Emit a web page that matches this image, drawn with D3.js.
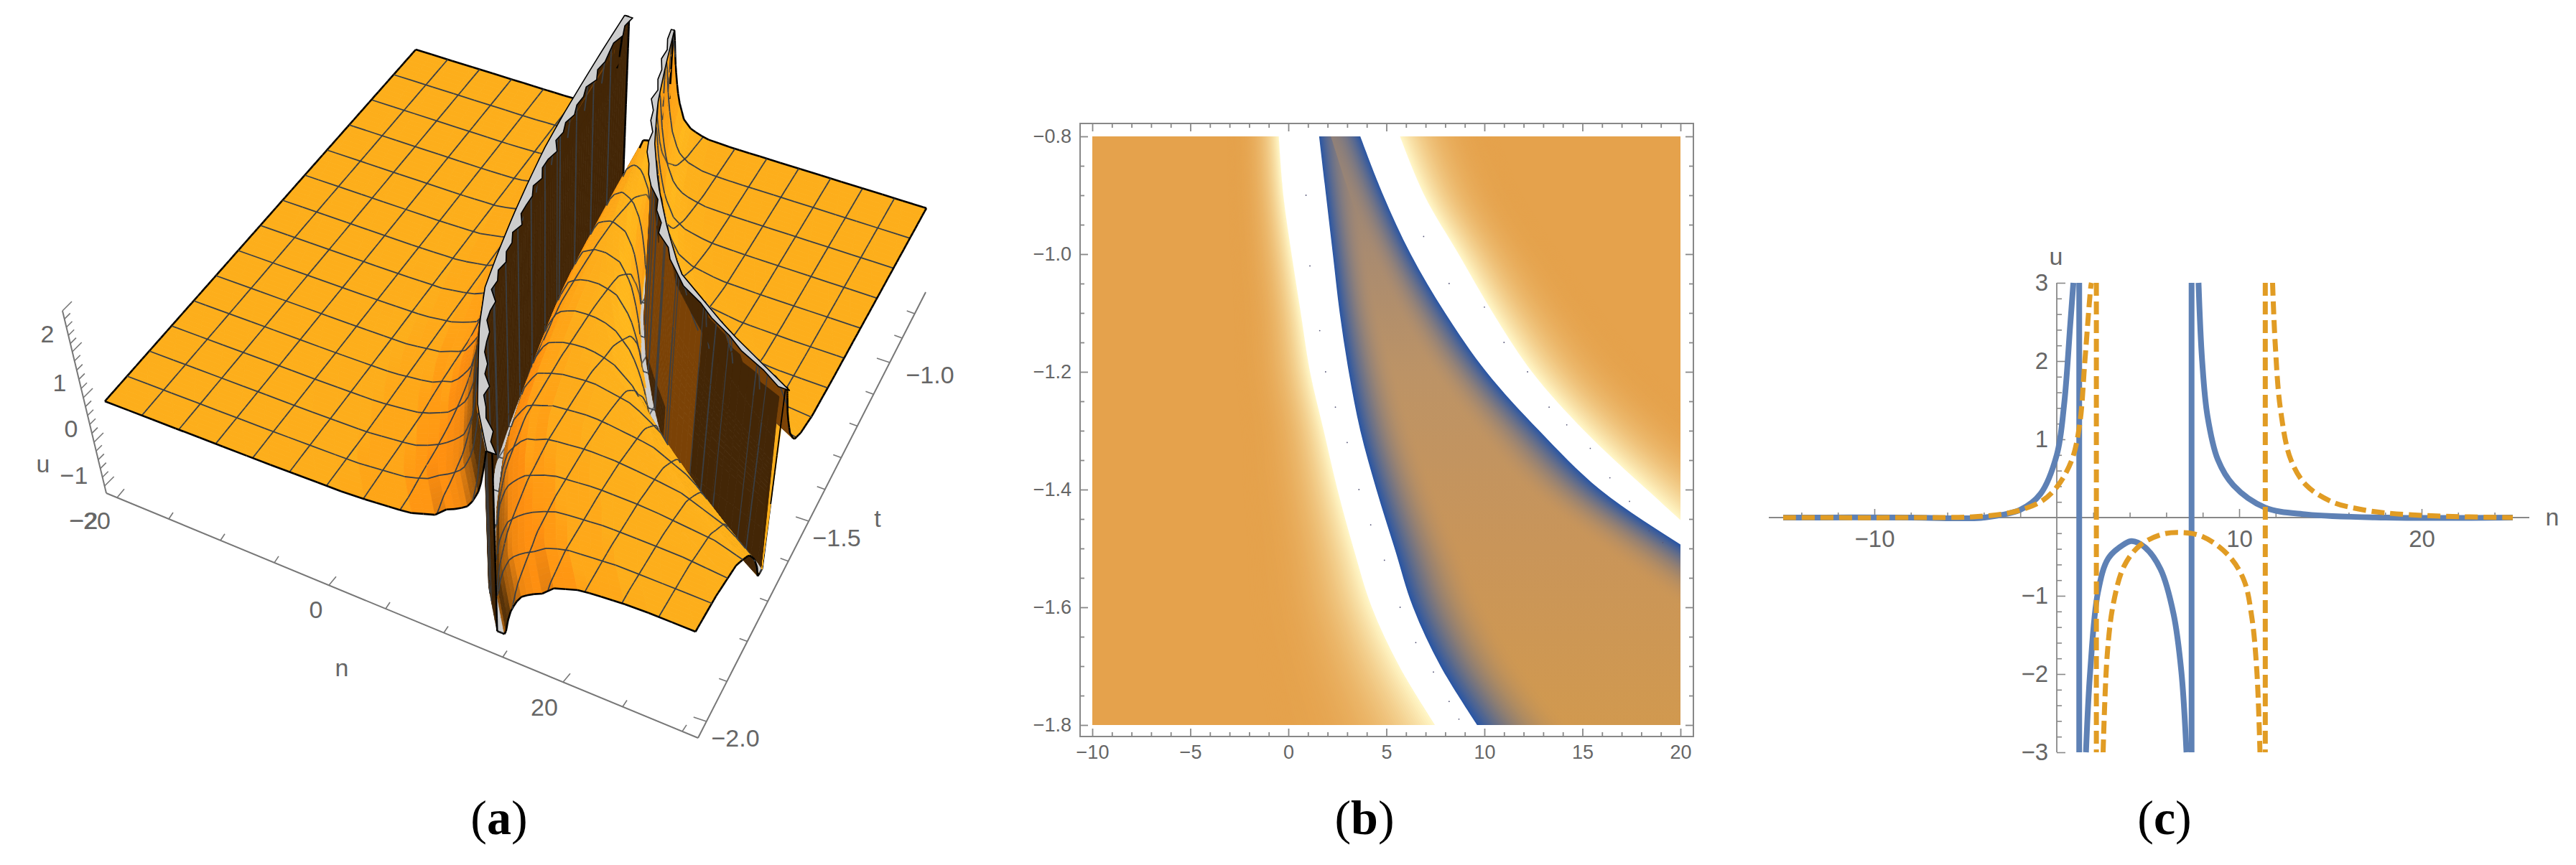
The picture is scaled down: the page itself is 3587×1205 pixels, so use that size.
<!DOCTYPE html>
<html>
<head>
<meta charset="utf-8">
<script src="https://d3js.org/d3.v7.min.js"></script>
<style>
  body { margin: 0; background: #fff; }
  svg { display: block; }
  text { font-family: "Liberation Sans", sans-serif; fill: #666; }
  .caption { font-family: "Liberation Serif", serif; fill: #000; font-size: 68px; text-anchor: middle; }
</style>
</head>
<body>
<svg id="chart" width="3587" height="1205"></svg>
<script>
// ---- panel (a) data: pole curves and height tables
const poleT = [-2, -1.9, -1.8, -1.7, -1.6, -1.5, -1.4, -1.3, -1.2, -1.1, -1, -0.9, -0.8];
const poleA = [13, 10.4, 8.55, 6.7, 5.19, 4.3, 3.48, 2.75, 2.08, 1.6, 1.21, 0.85, 0.54];
const poleB = [62, 53, 45, 37, 30, 23, 17.2, 14.2, 11.5, 9.2, 7.4, 6, 4.67];
const widthA = [2.4, 2.2, 2, 1.8, 1.6, 1.5, 1.4, 1.3, 1.2, 1.1, 1, 0.9, 0.75];
const widthB = [8, 7.5, 7, 6, 5, 3.5, 2.6, 2, 1.5, 1.2, 1, 0.85, 0.75];
const heightD = [0, 0.02, 0.3, 0.5, 0.8, 1.2, 2, 3, 5, 8, 100];
const heightU = [0, 5, 2.6, 2, 1.3, 0.82, 0.33, 0.13, 0.02, 0, 0];
const heightDB = [0, 0.02, 0.12, 0.5, 0.8, 1.2, 2, 3, 5, 8, 100];
const heightUB = [0, 5, 2.3, 1.5, 1.1, 0.7, 0.3, 0.13, 0.02, 0, 0];
const colOffsets = [0.002, 0.004, 0.006, 0.008, 0.01, 0.02, 0.05, 0.1, 0.2, 0.3, 0.4, 0.5, 0.65, 0.8, 1, 1.25, 1.5, 1.8, 2.2, 2.7, 3.3, 4, 5, 6, 7, 8, 9, 10, 11, 13, 15, 17, 19, 21, 23, 25, 27, 29, 31, 34];
const shadeSlopes = [-25, -10, -4, -1, -0.3, 0, 0.3, 1, 3, 8, 25];
const shadeColors = ['#7b4206', '#a85a08', '#f08a10', '#ffa818', '#ffb81c', '#fdae1b', '#ffa015', '#ff9010', '#c8700f', '#5a3408', '#432606'];
const teethA = [0.32, 0.08, 0.48, 0.1, 0.24, 0.05, 0.52, 0.12, 0.32, 0.06, 0.2, 0.42, 0.1, 0.26, 0.58, 0.1, 0.32, 0.08, 0.44, 0.16, 0.32, 0.05, 0.52, 0.1, 0.2, 0.36, 0.08, 0.48, 0.12, 0.26, 0.64, 0.1, 0.32, 0.08, 0.42, 0.16, 0.29, 0.05, 0.52, 0.12, 0.32, 0.2, 0.08, 0.44, 0.1, 0.32];
const teethB = [0.3, 0.1, 0.5, 0.1, 0.35, 0.2, 0.6, 0.1, 0.3, 0.15, 0.7, 0.2, 0.4, 0.1, 0.5, 0.6, 0.5, 0.6, 0.4, 0.1, 0.35, 0.2, 0.5, 0.1, 0.3, 0.15, 0.4, 0.1, 0.3, 0.2];
const aNTicks = [-20, -15, -10, -5, 0, 5, 10, 15, 20, 25, 30];
const aNTickX = [163, 235, 307, 382, 458, 537, 618, 700, 784, 867, 950];

// ---- panel (b) data: band edges (n at each t row)
const bT = [-0.8, -0.9, -1, -1.1, -1.2, -1.3, -1.4, -1.5, -1.6, -1.7, -1.8];
const creamLeft = [-0.49, -0.26, 0.16, 0.63, 1.1, 1.8, 2.5, 3.32, 4.25, 5.65, 7.48];
const blueLeft = [1.57, 1.92, 2.27, 2.62, 3.08, 3.67, 4.49, 5.42, 6.36, 7.76, 9.63];
const blueRight = [3.67, 4.84, 6.24, 8, 10.1, 12.8, 15.9, 20.3, 25, 30, 36];
const creamRight = [5.7, 6.94, 8.69, 10.44, 12.43, 15.1, 18.3, 21.8, 27, 32, 38];
const fadeLeft = [2.6, 2.8, 3.1, 3.4, 3.8, 4.2, 4.8, 5.4, 6.2, 7.2, 8.5];
const fadeRight = [5, 5, 5.2, 5.6, 6.2, 7, 8, 9, 10, 10, 10];
const fringeLeft = [1.4, 1.5, 1.7, 2, 2.4, 2.7, 3, 3.4, 3.8, 4.2, 4.8];
const fringeRight = [1.5, 1.7, 2, 2.4, 2.8, 3.3, 3.8, 4.4, 5, 5.5, 6];
const bandColorT = [-0.8, -1, -1.2, -1.5, -1.8];
const bandColors = ['#8f8079', '#a98b70', '#bc9366', '#c99559', '#d1994f'];
const speckN = [0.9, 1.1, 1.6, 1.9, 2.4, 3, 3.6, 4.2, 4.9, 5.7, 6.5, 7.4, 8.2, 8.7, 6.9, 8.2, 10, 11, 12.2, 13.3, 14.2, 15.4, 16.4, 17.4, 18.4, 19.1];
const speckT = [-0.9, -1.02, -1.13, -1.2, -1.26, -1.32, -1.4, -1.46, -1.52, -1.6, -1.66, -1.71, -1.76, -1.79, -0.97, -1.05, -1.09, -1.15, -1.2, -1.26, -1.29, -1.33, -1.38, -1.42, -1.47, -1.49];

// ---- panel (c) data
const blueCurves = [
  [[-15, 0], [-8, 0], [-5, -0.01], [-4, 0], [-2, 0.1], [-0.9, 0.3], [0, 0.8], [0.4, 1.44], [0.74, 2.47], [0.91, 3]],
  [[1.6, -3], [1.83, -1.97], [2.26, -0.95], [2.83, -0.52], [3.69, -0.34], [4.11, -0.3], [4.83, -0.38], [5.69, -0.66], [6.4, -1.23], [6.83, -1.97], [7.11, -3]],
  [[7.77, 3], [7.97, 2], [8.26, 1.3], [8.83, 0.74], [9.69, 0.41], [11.4, 0.13], [13.69, 0.04], [18, 0], [25, 0]]
];
const orangeCurves = [
  [[-15, 0], [-8, 0], [-4.6, 0.01], [-2.6, 0.06], [-0.9, 0.2], [0, 0.39], [0.83, 0.74], [1.26, 1.2], [1.54, 2], [1.86, 2.94], [1.9, 3]],
  [[2.54, -3], [2.77, -1.74], [3.11, -1.09], [3.69, -0.62], [4.54, -0.36], [5.69, -0.22], [6.69, -0.19], [7.97, -0.24], [9.4, -0.48], [10.26, -0.8], [10.69, -1.27], [10.97, -1.97], [11.14, -3]],
  [[11.83, 3], [11.97, 2.24], [12.26, 1.39], [12.83, 0.74], [13.69, 0.41], [15.1, 0.2], [16.54, 0.11], [18, 0.06], [20.8, 0.02], [25, 0]]
];
const bluePoles = [1.23, 7.39];
const orangePoles = [2.17, 11.43];

const svg = d3.select('#chart');
const lerp = (a, b, f) => a + (b - a) * f;

// ================= panel (a) =================
const gA = svg.append('g');
const clipTop = 2.2, clipBot = -1.8;
const nFrac = d3.scaleLinear([-20, 30], [0, 1]);
const tFrac = d3.scaleLinear([-2, -0.8], [0, 1]);
const FL = [146, 559], FR = [969, 875], BL = [579, 69], BR = [1290, 290], VP = [755, 3220];
const liftPx = 62;
const poleAAt = d3.scaleLinear(poleT, poleA);
const poleBAt = d3.scaleLinear(poleT, poleB);
const widthAAt = d3.scaleLinear(poleT, widthA);
const widthBAt = d3.scaleLinear(poleT, widthB);
const heightAt = d3.scaleLinear(heightD, heightU).clamp(true);
const heightBAt = d3.scaleLinear(heightDB, heightUB).clamp(true);
const shade = d3.scaleLinear(shadeSlopes, shadeColors).clamp(true);

function project(n, t, u) {
  const fn = nFrac(n), ft = tFrac(t);
  const lx = lerp(FL[0], BL[0], ft), ly = lerp(FL[1], BL[1], ft);
  const rx = lerp(FR[0], BR[0], ft), ry = lerp(FR[1], BR[1], ft);
  const x = lerp(lx, rx, fn), y = lerp(ly, ry, fn);
  const dx = x - VP[0], dy = y - VP[1], len = Math.hypot(dx, dy);
  return [x + dx / len * liftPx * u, y + dy / len * liftPx * u];
}
function depthKey(n, t, u) { return 0.07 * nFrac(n) - 0.128 * tFrac(t) + 0.091 * u; }

function termA(x, w) {
  const d = Math.abs(x);
  const wEff = 1 + (w - 1) * Math.min(1, d / 4);
  return Math.sign(x) * heightAt(d / wEff);
}
function termB(x, w) {
  return Math.sign(x) * heightBAt(Math.abs(x) / w);
}
function surfaceU(n, t) {
  const u = -termA(n - poleAAt(t), widthAAt(t)) + termB(n - poleBAt(t), widthBAt(t));
  return Math.max(clipBot, Math.min(clipTop, u));
}
function columnsAt(t) {
  const A = poleAAt(t), B = poleBAt(t), mid = (A + B) / 2;
  const desc = colOffsets.slice().reverse();
  const cols = [
    ...desc.map(d => Math.max(-20, A - d)), A,
    ...colOffsets.map(d => Math.min(mid, A + d)),
    ...desc.map(d => Math.max(mid, B - d)), B,
    ...colOffsets.map(d => B + d)
  ];
  return cols.map(n => Math.min(30, n));
}

const items = [];
const rowsT = d3.range(0, 101).map(i => -2 + i * 0.012);
const line = d3.line();
const rowCols = rowsT.map(columnsAt);
for (let i = 0; i < rowsT.length - 1; i++) {
  const t0 = rowsT[i], t1 = rowsT[i + 1];
  const c0 = rowCols[i], c1 = rowCols[i + 1];
  const slopeBoost = Math.pow(widthAAt(t0), 2.5);
  for (let j = 0; j < c0.length - 1; j++) {
    if (c0[j + 1] - c0[j] < 1e-9 && c1[j + 1] - c1[j] < 1e-9) continue;
    const u00 = surfaceU(c0[j], t0), u01 = surfaceU(c0[j + 1], t0);
    const u10 = surfaceU(c1[j], t1), u11 = surfaceU(c1[j + 1], t1);
    const minU = Math.min(u00, u01, u10, u11), maxU = Math.max(u00, u01, u10, u11);
    const dn = ((c0[j + 1] + c1[j + 1]) - (c0[j] + c1[j])) / 2;
    const slope = ((u01 + u11) - (u00 + u10)) / 2 / Math.max(dn, 1e-4);
    const capped = minU >= clipTop - 1e-6 || maxU <= clipBot + 1e-6;
    const pts = [project(c0[j], t0, u00), project(c0[j + 1], t0, u01), project(c1[j + 1], t1, u11), project(c1[j], t1, u10)];
    // screen winding tells whether the underside of the sheet faces the viewer
    const cross = (pts[2][0] - pts[0][0]) * (pts[3][1] - pts[1][1]) - (pts[2][1] - pts[0][1]) * (pts[3][0] - pts[1][0]);
    let fill;
    if (capped) fill = '#cdcdcd';
    else if (slope < -80) fill = '#432606';   // wall on the first pole
    else if (slope > 80) fill = '#7b4206';    // wall on the second pole
    else if (cross > 0) fill = t0 < -1.6 ? '#432606' : '#7b4206';
    else fill = shade(slope > 0 ? slope * slopeBoost : slope);
    const key = depthKey((c0[j] + c0[j + 1]) / 2, (t0 + t1) / 2, (u00 + u01 + u10 + u11) / 4);
    items.push({ d: line(pts) + 'Z', fill, stroke: fill, sw: 0.8, key });
  }
}
function addSegment(p, q, color, sw, steepFactor) {
  // long jumps across a wall are split so that the depth sort still works
  const du = Math.abs(q[2] - p[2]);
  const parts = Math.max(1, Math.ceil(du / 0.4));
  const lift = 0.006 + 0.091 * Math.min(0.6, du * steepFactor);
  for (let k = 0; k < parts; k++) {
    const a = k / parts, b = (k + 1) / parts;
    const pa = p.map((v, m) => lerp(v, q[m], a)), pb = p.map((v, m) => lerp(v, q[m], b));
    items.push({
      d: line([project(pa[0], pa[1], pa[2]), project(pb[0], pb[1], pb[2])]),
      fill: 'none', stroke: color, sw: parts > 2 ? sw * 0.7 : sw,
      key: depthKey((pa[0] + pb[0]) / 2, (pa[1] + pb[1]) / 2, (pa[2] + pb[2]) / 2) + lift
    });
  }
}
function addRowLine(t, color, sw) {
  const cols = columnsAt(t);
  for (let j = 0; j < cols.length - 1; j++) {
    if (cols[j + 1] - cols[j] < 1e-9) continue;
    addSegment([cols[j], t, surfaceU(cols[j], t)], [cols[j + 1], t, surfaceU(cols[j + 1], t)], color, sw, 1);
  }
}
function addColumnLine(n, color, sw) {
  let prev = null;
  for (let t = -2; t < -0.8 + 1e-9; ) {
    const near = Math.min(Math.abs(n - poleAAt(t)), Math.abs(n - poleBAt(t)));
    const cur = [n, t, surfaceU(n, t)];
    if (prev) addSegment(prev, cur, color, sw, near < 1.5 ? 12 : 1);
    prev = cur;
    t += near < 1.5 ? 0.001 : 0.012;
  }
  addSegment(prev, [n, -0.8, surfaceU(n, -0.8)], color, sw, 1);
}
for (let k = 1; k < 14; k++) addRowLine(-2 + k * 1.2 / 14, '#3a3f45', 1.8);
for (let k = 1; k < 16; k++) addColumnLine(-20 + k * 50 / 16, '#3a3f45', 1.8);
addRowLine(-2, '#000', 2.6);
addRowLine(-0.8, '#000', 2.6);
addColumnLine(-20, '#000', 2.6);
addColumnLine(30, '#000', 2.6);
items.sort((a, b) => a.key - b.key);
gA.append('g').selectAll('path').data(items).join('path')
  .attr('d', d => d.d).attr('fill', d => d.fill).attr('stroke', d => d.stroke)
  .attr('stroke-width', d => d.sw).attr('stroke-linejoin', 'round');

// clipped ridges along both poles
function ridge(poleAt, teeth, tStart, sign, capWidth) {
  const tScale = d3.scaleLinear([0, teeth.length - 1], [tStart, -0.8]);
  const outer = teeth.map((v, i) => project(poleAt(tScale(i)) + sign * v, tScale(i), clipTop));
  const inner = teeth.map((v, i) => project(poleAt(tScale(i)) - sign * capWidth(tScale(i)), tScale(i), clipTop)).reverse();
  gA.append('path').attr('d', line(outer.concat(inner)) + 'Z')
    .attr('fill', '#cdcdcd').attr('stroke', '#000').attr('stroke-width', 1.6).attr('stroke-linejoin', 'round');
}
ridge(poleAAt, teethA, -2, 1, () => 0.44);
ridge(poleBAt, teethB, -1.595, -1, t => 0.13 * widthBAt(t));

// 3D box axes
const axisStroke = '#777';
const nAxisY = d3.scaleLinear([148, 972], [687, 1028]);
const nTickX = d3.scaleLinear(aNTicks, aNTickX);
const tAxisX = d3.scaleLinear([1028, 407], [972, 1289]);
const tTickY = d3.scaleLinear([-2, -1.5, -1, -0.8], [1005, 726, 505, 437]);
const uAxisX = d3.scaleLinear([687, 433], [148, 87]);
const uTickY = d3.scaleLinear([-2, -1, 0, 1, 2], [677, 616, 554, 490, 433]);
const axesA = [[148, 687, 972, 1028], [972, 1028, 1289, 407], [148, 687, 87, 433]];
gA.append('g').selectAll('line').data(axesA).join('line')
  .attr('x1', d => d[0]).attr('y1', d => d[1]).attr('x2', d => d[2]).attr('y2', d => d[3])
  .attr('stroke', axisStroke).attr('stroke-width', 2);
const isMajorN = d => d === -20 || d === 0 || d === 20;
gA.append('g').selectAll('line').data(aNTicks).join('line')
  .attr('x1', d => nTickX(d)).attr('y1', d => nAxisY(nTickX(d)))
  .attr('x2', d => nTickX(d) + (isMajorN(d) ? 10 : 6)).attr('y2', d => nAxisY(nTickX(d)) - (isMajorN(d) ? 12 : 9))
  .attr('stroke', axisStroke).attr('stroke-width', 1.6);
const aTTicks = d3.range(-2, -0.79, 0.1).map(d => +d.toFixed(1));
const isMajorT = d => d === -2 || d === -1.5 || d === -1;
gA.append('g').selectAll('line').data(aTTicks).join('line')
  .attr('x1', d => tAxisX(tTickY(d))).attr('y1', d => tTickY(d))
  .attr('x2', d => tAxisX(tTickY(d)) - (isMajorT(d) ? 18 : 11)).attr('y2', d => tTickY(d) - (isMajorT(d) ? 6 : 4))
  .attr('stroke', axisStroke).attr('stroke-width', 1.6);
const aUTicks = d3.range(-2, 2.01, 0.2).map(d => +d.toFixed(1));
const isMajorU = d => Number.isInteger(d);
gA.append('g').selectAll('line').data(aUTicks).join('line')
  .attr('x1', d => uAxisX(uTickY(d))).attr('y1', d => uTickY(d))
  .attr('x2', d => uAxisX(uTickY(d)) + (isMajorU(d) ? 13 : 8)).attr('y2', d => uTickY(d) - (isMajorU(d) ? 13 : 8))
  .attr('stroke', axisStroke).attr('stroke-width', 1.6);
const labelsA = [
  ['2', 66, 465], ['1', 83, 533], ['0', 99, 597], ['\u22121', 103, 662], ['\u22122', 117, 725],
  ['\u221220', 125, 725], ['0', 440, 849], ['20', 758, 985],
  ['\u22122.0', 1024, 1028], ['\u22121.5', 1165, 749], ['\u22121.0', 1295, 522],
  ['n', 476, 930], ['t', 1222, 722], ['u', 60, 646]
];
gA.append('g').selectAll('text').data(labelsA).join('text')
  .attr('x', d => d[1]).attr('y', d => d[2]).attr('dy', '0.36em').attr('text-anchor', 'middle')
  .attr('font-size', 34).text(d => d[0]);

// ================= panel (b) =================
const gB = svg.append('g');
const xB = d3.scaleLinear([-10, 20], [1521, 2340]);
const yB = d3.scaleLinear([-0.8, -1.8], [190, 1010]);
const defs = svg.append('defs');
defs.append('clipPath').attr('id', 'clipB').append('rect')
  .attr('x', xB(-10)).attr('y', yB(-0.8)).attr('width', xB(20) - xB(-10)).attr('height', yB(-1.8) - yB(-0.8));
const plotB = gB.append('g').attr('clip-path', 'url(#clipB)');
const baseOrange = '#e5a24c', creamEdge = '#fff6c6', blueEdge = '#2a56a4';
plotB.append('rect').attr('x', xB(-10)).attr('y', yB(-0.8)).attr('width', xB(20) - xB(-10)).attr('height', yB(-1.8) - yB(-0.8)).attr('fill', baseOrange);
const band = d3.area().curve(d3.curveCatmullRom).y((d, i) => yB(bT[i]));
function between(a, b) {
  return band.x0((d, i) => xB(a[i])).x1((d, i) => xB(b[i]))(bT);
}
// nested opaque layers, widest first, so the fade has no seams
function fringe(edge, width, dir, fillFor, layers, power) {
  d3.range(1, layers + 1).reverse().forEach(k => {
    const f = k / layers;
    const far = edge.map((e, i) => e + dir * width[i] * f);
    plotB.append('path').attr('d', between(edge, far)).attr('fill', fillFor(Math.pow(1 - (k - 1) / layers, power), k));
  });
}
const creamFill = mix => d3.interpolateRgb(baseOrange, creamEdge)(mix);
fringe(creamLeft, fadeLeft, -1, creamFill, 70, 3);
fringe(creamRight, fadeRight, 1, creamFill, 70, 3);
// the band between the blue edges gets a top-to-bottom gradient, one per layer
function bandGradient(id, mix) {
  const grad = defs.append('linearGradient').attr('id', id).attr('gradientUnits', 'userSpaceOnUse')
    .attr('x1', 0).attr('x2', 0).attr('y1', yB(-0.8)).attr('y2', yB(-1.8));
  grad.selectAll('stop').data(bandColorT).join('stop')
    .attr('offset', d => (yB(d) - yB(-0.8)) / (yB(-1.8) - yB(-0.8)))
    .attr('stop-color', (d, i) => d3.interpolateRgb(bandColors[i], blueEdge)(mix));
  return `url(#${id})`;
}
plotB.append('path').attr('d', between(blueLeft, blueRight)).attr('fill', bandGradient('bandBase', 0));
fringe(blueLeft, fringeLeft, 1, (mix, k) => bandGradient('bandL' + k, mix), 50, 2);
fringe(blueRight, fringeRight, -1, (mix, k) => bandGradient('bandR' + k, mix), 50, 2);
plotB.append('path').attr('d', between(creamLeft, blueLeft)).attr('fill', '#fff');
plotB.append('path').attr('d', between(blueRight, creamRight)).attr('fill', '#fff');
plotB.selectAll('circle').data(speckN).join('circle')
  .attr('cx', d => xB(d)).attr('cy', (d, i) => yB(speckT[i])).attr('r', 0.9).attr('fill', '#557');

const frameB = { left: 1504, right: 2358, top: 172, bottom: 1026 };
gB.append('rect').attr('x', frameB.left).attr('y', frameB.top)
  .attr('width', frameB.right - frameB.left).attr('height', frameB.bottom - frameB.top)
  .attr('fill', 'none').attr('stroke', '#888').attr('stroke-width', 2);
const bNMajor = d3.range(-10, 21, 5), bNMinor = d3.range(-10, 21, 1).filter(d => d % 5 !== 0);
const bTMajor = [-0.8, -1, -1.2, -1.4, -1.6, -1.8];
const bTMinor = d3.range(0, 21).map(i => +(-0.8 - i * 0.05).toFixed(2)).filter(d => !bTMajor.includes(d));
function frameAxis(axisGen, scale, pos, majors, minors, showText) {
  const fmt = scale === xB ? d3.format('d') : d3.format('.1f');
  const major = gB.append('g').attr('transform', pos)
    .call(axisGen(scale).tickValues(majors).tickSizeInner(-11).tickSizeOuter(0).tickPadding(12).tickFormat(showText ? fmt : ''));
  const minor = gB.append('g').attr('transform', pos)
    .call(axisGen(scale).tickValues(minors).tickSizeInner(-6).tickSizeOuter(0).tickFormat(''));
  [major, minor].forEach(g => {
    g.select('.domain').remove();
    g.selectAll('line').attr('stroke', '#888').attr('stroke-width', 1.8);
    g.selectAll('text').attr('font-size', 27).attr('fill', '#666').attr('font-family', '"Liberation Sans", sans-serif');
  });
}
frameAxis(d3.axisBottom, xB, `translate(0,${frameB.bottom})`, bNMajor, bNMinor, true);
frameAxis(d3.axisTop, xB, `translate(0,${frameB.top})`, bNMajor, bNMinor, false);
frameAxis(d3.axisLeft, yB, `translate(${frameB.left},0)`, bTMajor, bTMinor, true);
frameAxis(d3.axisRight, yB, `translate(${frameB.right},0)`, bTMajor, bTMinor, false);

// ================= panel (c) =================
const gC = svg.append('g');
const xC = d3.scaleLinear([-10, 20], [2610, 3372]);
const yC = d3.scaleLinear([-3, 3], [1048, 394]);
const cNMajor = [-10, 10, 20];
const cNMinor = d3.range(-14, 25, 2).filter(d => d % 10 !== 0);
const cUMajor = [-3, -2, -1, 1, 2, 3];
const cUMinor = d3.range(-30, 31, 2).map(d => d / 10).filter(d => !Number.isInteger(d));
function styleAxis(g) {
  g.select('.domain').remove();
  g.selectAll('line').attr('stroke', '#888').attr('stroke-width', 1.6);
  g.selectAll('text').attr('font-size', 33).attr('fill', '#666').attr('font-family', '"Liberation Sans", sans-serif');
}
const axisX = `translate(0,${yC(0)})`, axisY = `translate(${xC(0)},0)`;
gC.append('g').attr('transform', axisX).call(d3.axisBottom(xC).tickValues(cNMajor).tickSizeInner(-12).tickSizeOuter(0).tickPadding(18).tickFormat(d3.format('d'))).call(styleAxis);
gC.append('g').attr('transform', axisX).call(d3.axisBottom(xC).tickValues(cNMinor).tickSizeInner(-7).tickSizeOuter(0).tickFormat('')).call(styleAxis);
gC.append('g').attr('transform', axisY).call(d3.axisLeft(yC).tickValues(cUMajor).tickSizeInner(-12).tickSizeOuter(0).tickPadding(12).tickFormat(d3.format('d'))).call(styleAxis);
gC.append('g').attr('transform', axisY).call(d3.axisLeft(yC).tickValues(cUMinor).tickSizeInner(-7).tickSizeOuter(0).tickFormat('')).call(styleAxis);
gC.append('line').attr('x1', 2463).attr('x2', 3522).attr('y1', yC(0)).attr('y2', yC(0)).attr('stroke', '#888').attr('stroke-width', 1.8);
gC.append('line').attr('x1', xC(0)).attr('x2', xC(0)).attr('y1', yC(3)).attr('y2', yC(-3)).attr('stroke', '#888').attr('stroke-width', 1.8);
const curveC = d3.line().x(d => xC(d[0])).y(d => yC(d[1])).curve(d3.curveCatmullRom);
function drawSeries(curves, poles, color, width, dash) {
  const g = gC.append('g').attr('fill', 'none').attr('stroke', color).attr('stroke-width', width).attr('stroke-dasharray', dash);
  g.selectAll('path').data(curves).join('path').attr('d', curveC);
  g.selectAll('line').data(poles).join('line')
    .attr('x1', d => xC(d)).attr('x2', d => xC(d)).attr('y1', yC(3)).attr('y2', yC(-3));
}
drawSeries(blueCurves, bluePoles, '#5e81b5', 8, null);
drawSeries(orangeCurves, orangePoles, '#e19c24', 7, '18 8');
gC.append('text').attr('x', 3554).attr('y', yC(0)).attr('dy', '0.32em').attr('text-anchor', 'middle').attr('font-size', 34).text('n');
gC.append('text').attr('x', 2863).attr('y', 358).attr('dy', '0.32em').attr('text-anchor', 'middle').attr('font-size', 34).text('u');

// ================= captions =================
const captions = [['a', 695], ['b', 1900], ['c', 3014]];
captions.forEach(c => {
  const t = svg.append('text').attr('class', 'caption').attr('x', c[1]).attr('y', 1162);
  t.append('tspan').text('(');
  t.append('tspan').attr('font-weight', 'bold').text(c[0]);
  t.append('tspan').text(')');
});
</script>
</body>
</html>
